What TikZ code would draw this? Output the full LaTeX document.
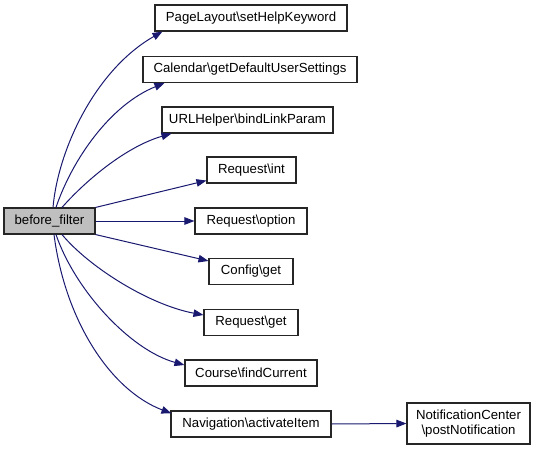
\documentclass[tikz,border=0pt]{standalone}
\usepackage{fontspec}
\setmainfont{Liberation Sans}
\usetikzlibrary{arrows.meta,calc}
\definecolor{edgeblue}{HTML}{191970}
\definecolor{curgray}{HTML}{BFBFBF}
\begin{document}
\begin{tikzpicture}[x=1pt,y=-1pt,
  fn/.style={draw=black!85,line width=1.1pt,fill=white,inner sep=0pt,minimum height=26pt,
    font=\fontsize{13.2}{15}\selectfont,align=center},
  call/.style={draw=edgeblue,line width=1pt,-{Triangle[length=10pt,width=7.5pt]}}]
\useasboundingbox (0,0) rectangle (539,450);
\node[fn,fill=curgray,minimum width=91pt] (bf) at (49.5,221) {before\_filter};
\node[fn,minimum width=192pt] (pl) at (251,18) {PageLayout\textbackslash setHelpKeyword};
\node[fn,minimum width=214pt] (cal) at (250,69.5) {Calendar\textbackslash getDefaultUserSettings};
\node[fn,minimum width=171pt] (url) at (247.5,120) {URLHelper\textbackslash bindLinkParam};
\node[fn,minimum width=89pt] (ri) at (251.5,170) {Request\textbackslash int};
\node[fn,minimum width=112pt] (ro) at (251,221) {Request\textbackslash option};
\node[fn,minimum width=84pt] (cg) at (251,271.5) {Config\textbackslash get};
\node[fn,minimum width=94pt] (rg) at (251,322.5) {Request\textbackslash get};
\node[fn,minimum width=132pt] (cf) at (251,373) {Course\textbackslash findCurrent};
\node[fn,minimum width=160pt] (nav) at (251,424) {Navigation\textbackslash activateItem};
\node[fn,minimum width=123pt,minimum height=41pt] (nc) at (468.5,423.5) {NotificationCenter\\\textbackslash postNotification};

\draw[call] ($(bf.north)+(3.5,0)$) .. controls (58,150) and (95,70) .. ($(pl.south west)+(8,0)$);
\draw[call] ($(bf.north)+(6.5,0)$) .. controls (72,160) and (110,105) .. ($(cal.south west)+(22,0)$);
\draw[call] ($(bf.north)+(12.5,0)$) .. controls (88,178) and (128,146) .. ($(url.south west)+(10,0)$);
\draw[call] (bf.north east) -- ($(ri.south west)+(0,-3)$);
\draw[call] (bf.east) -- (ro.west);
\draw[call] (bf.south east) -- ($(cg.north west)+(0,3)$);
\draw[call] ($(bf.south)+(12.5,0)$) .. controls (90,268) and (150,305) .. ($(rg.west)+(0,-7.5)$);
\draw[call] ($(bf.south)+(6.5,0)$) .. controls (75,290) and (130,350) .. ($(cf.west)+(0,-8)$);
\draw[call] ($(bf.south)+(4.5,0)$) .. controls (65,320) and (110,390) .. ($(nav.north west)+(1,3)$);
\draw[call] (nav.east) -- (nc.west);
\end{tikzpicture}
\end{document}
